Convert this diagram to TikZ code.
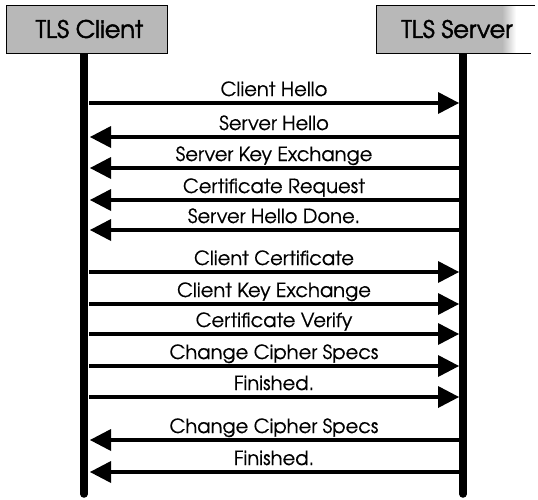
\documentclass[tikz,border=0pt]{standalone}
\usepackage{fontspec}
\usetikzlibrary{arrows.meta}
\newfontfamily\msgfont{texgyreadventor-regular.otf}[FakeBold=0.5]
\newfontfamily\titlefont{texgyreadventor-regular.otf}[FakeBold=2]
\definecolor{boxgray}{gray}{0.72}
\tikzset{
  life/.style={line width=7.5pt, line cap=round},
  msg/.style={line width=4pt, -{Triangle[length=21pt,width=22pt,line width=0pt]}},
  lbl/.style={anchor=base, inner sep=0pt, font=\msgfont\fontsize{19.5}{22}\selectfont},
  ttl/.style={inner sep=0pt, font=\titlefont\fontsize{24}{27}\selectfont},
}
\begin{document}
\begin{tikzpicture}[x=1pt,y=-1pt]
\useasboundingbox (0,0) rectangle (538,499);

% lifelines
\coordinate (ctop) at (84,53);
\coordinate (cbot) at (84,494);
\coordinate (stop) at (463,53);
\coordinate (sbot) at (463,494);
\draw[life] (ctop) -- (cbot);
\draw[life] (stop) -- (sbot);

% client header
\node[draw, line width=1pt, fill=boxgray, minimum width=161pt, minimum height=48pt] (clientbox) at (86.5,29) {};
\node[ttl] (client) at (89.5,29) {TLS Client};

% server header, its grey fading out towards the right
\fill[boxgray] (376,5) rectangle (502,53);
\shade[left color=boxgray, right color=white] (502,5) rectangle (516,53);
\draw[line width=1pt] (535,5) -- (376,5) -- (376,53) -- (531,53);
\node[ttl] (server) at (457,29) {TLS Server};

% client -> server messages
\foreach \i/\y/\txt in {1/103/Client Hello, 6/272/Client Certificate, 7/304/Client Key Exchange,
                        8/334/Certificate Verify, 9/366/Change Cipher Specs, 10/397/Finished.} {
  \coordinate (c\i) at (89,\y);
  \coordinate (s\i) at (459,\y);
  \draw[msg] (c\i) -- (s\i);
  \node[lbl] (l\i) at (274,\y-7) {\txt};
}

% server -> client messages
\foreach \i/\y/\txt in {2/137/Server Hello, 3/168/Server Key Exchange, 4/200/Certificate Request,
                        5/230/Server Hello Done., 11/440/Change Cipher Specs, 12/472/Finished.} {
  \coordinate (c\i) at (90,\y);
  \coordinate (s\i) at (459,\y);
  \draw[msg] (s\i) -- (c\i);
  \node[lbl] (l\i) at (274,\y-7) {\txt};
}
\end{tikzpicture}
\end{document}
